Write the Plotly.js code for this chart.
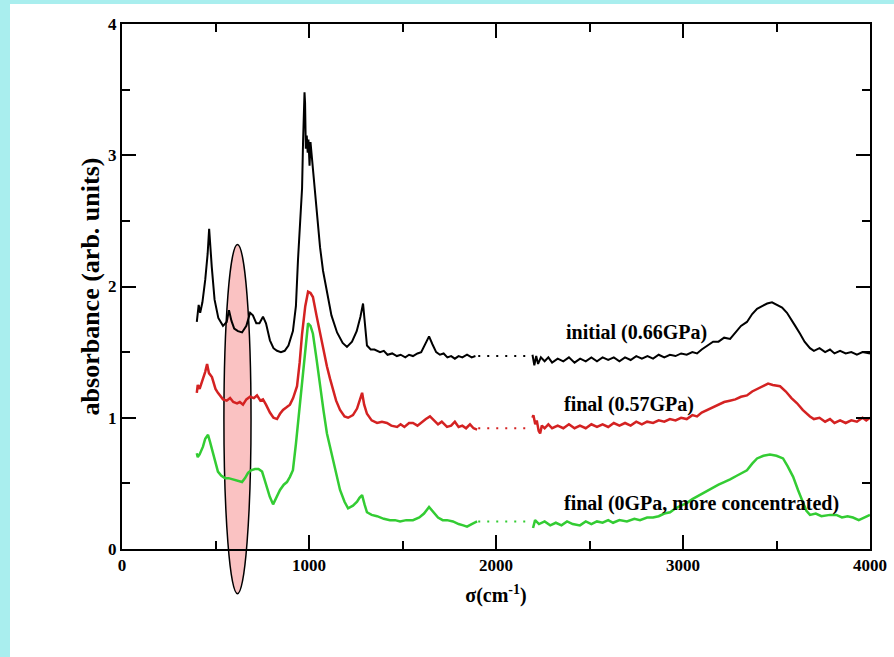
<!DOCTYPE html>
<html>
<head>
<meta charset="utf-8">
<script src="https://cdn.plot.ly/plotly-3.0.1.min.js"></script>
<style>
html,body{margin:0;padding:0;background:#ffffff;}
#chart{width:894px;height:657px;}
</style>
</head>
<body>
<div id="chart"></div>
<script>
// ---- data ----
const blackX1 = [400,410,418,430,445,458,466,472,480,495,515,540,560,572,585,600,620,642,665,685,700,718,735,754,770,791,810,829,850,870,890,914,930,941,955,963,968,972,976,979,983,988,993,997,1003,1008,1014,1022,1032,1045,1059,1075,1096,1120,1150,1180,1203,1230,1255,1275,1289,1298,1310,1330,1350,1380,1400,1420,1445,1470,1490,1515,1535,1556,1580,1600,1620,1642,1660,1680,1700,1720,1740,1760,1780,1800,1820,1845,1870,1890];
const blackY1 = [1.73,1.86,1.80,1.88,2.05,2.25,2.44,2.30,2.15,1.90,1.76,1.70,1.73,1.82,1.74,1.68,1.66,1.65,1.70,1.80,1.78,1.72,1.72,1.77,1.72,1.59,1.53,1.51,1.50,1.51,1.55,1.66,1.85,2.20,2.55,2.75,3.09,3.30,3.48,3.40,3.05,3.15,3.02,3.12,2.92,3.10,3.00,2.90,2.76,2.52,2.30,2.12,1.95,1.78,1.65,1.57,1.54,1.58,1.66,1.77,1.87,1.72,1.55,1.52,1.52,1.50,1.51,1.48,1.49,1.47,1.48,1.46,1.48,1.47,1.49,1.50,1.56,1.62,1.56,1.50,1.48,1.49,1.46,1.47,1.45,1.47,1.46,1.48,1.46,1.47];
const blackX2 = [2195,2205,2215,2225,2240,2260,2280,2300,2330,2360,2390,2420,2450,2480,2510,2540,2570,2600,2630,2660,2690,2720,2750,2780,2810,2840,2870,2900,2930,2960,2990,3020,3050,3075,3100,3130,3161,3190,3220,3252,3280,3310,3342,3370,3396,3420,3450,3476,3500,3530,3556,3580,3600,3626,3650,3679,3700,3730,3760,3786,3810,3840,3870,3900,3930,3960,3990,4000];
const blackY2 = [1.48,1.40,1.47,1.41,1.46,1.43,1.46,1.42,1.45,1.43,1.46,1.42,1.45,1.43,1.46,1.43,1.46,1.44,1.46,1.43,1.46,1.44,1.47,1.45,1.47,1.45,1.48,1.46,1.48,1.47,1.49,1.48,1.50,1.49,1.52,1.55,1.58,1.58,1.61,1.60,1.65,1.70,1.73,1.79,1.83,1.85,1.87,1.88,1.86,1.84,1.80,1.75,1.70,1.64,1.58,1.53,1.51,1.53,1.50,1.52,1.49,1.51,1.49,1.50,1.48,1.50,1.49,1.49];

const redX1 = [400,405,415,433,445,455,465,481,500,513,540,560,578,595,615,630,647,665,685,705,722,740,754,770,791,810,829,845,861,880,898,915,936,950,963,980,995,1008,1021,1040,1059,1078,1096,1112,1128,1145,1166,1190,1209,1235,1257,1270,1284,1295,1310,1335,1364,1390,1417,1440,1471,1490,1510,1535,1556,1580,1605,1625,1647,1670,1690,1710,1738,1760,1780,1800,1820,1840,1861,1880,1899];
const redY1 = [1.19,1.25,1.22,1.29,1.35,1.41,1.34,1.31,1.22,1.19,1.14,1.13,1.15,1.12,1.11,1.12,1.10,1.14,1.16,1.15,1.17,1.13,1.14,1.10,1.04,1.00,0.99,1.03,1.06,1.08,1.10,1.15,1.24,1.42,1.64,1.85,1.96,1.95,1.92,1.78,1.64,1.50,1.39,1.30,1.21,1.13,1.06,1.01,1.00,1.02,1.07,1.13,1.19,1.10,1.03,0.98,0.96,0.97,0.96,0.94,0.93,0.95,0.93,0.96,0.96,0.94,0.97,0.99,1.01,0.98,0.95,0.97,0.93,0.94,0.97,0.93,0.94,0.92,0.95,0.92,0.91];
const redX2 = [2195,2200,2210,2218,2228,2236,2245,2260,2280,2300,2330,2360,2390,2420,2449,2480,2510,2540,2570,2600,2630,2660,2690,2720,2750,2780,2808,2840,2870,2900,2930,2960,2990,3020,3050,3075,3100,3130,3161,3190,3220,3250,3280,3310,3342,3370,3400,3430,3455,3480,3519,3550,3580,3610,3640,3679,3700,3730,3760,3786,3810,3840,3870,3900,3930,3960,3980,4000];
const redY2 = [1.00,1.02,0.95,0.98,0.90,0.88,0.94,0.92,0.95,0.92,0.94,0.92,0.95,0.92,0.94,0.92,0.95,0.93,0.95,0.93,0.96,0.94,0.96,0.94,0.97,0.95,0.97,0.96,0.98,0.97,0.99,0.98,1.00,0.99,1.02,1.01,1.04,1.06,1.08,1.10,1.12,1.13,1.14,1.16,1.17,1.20,1.22,1.24,1.26,1.25,1.24,1.20,1.15,1.11,1.06,1.01,0.99,1.00,0.97,0.99,0.96,0.98,0.96,0.98,0.97,1.00,0.98,1.00];

const greenX1 = [400,405,415,433,445,460,470,487,500,513,530,551,570,594,615,642,658,674,690,711,730,749,762,775,790,808,825,845,865,882,898,914,930,952,970,985,995,1008,1021,1040,1059,1078,1096,1112,1128,1145,1166,1190,1209,1235,1257,1270,1284,1297,1310,1335,1364,1400,1433,1460,1487,1520,1556,1590,1615,1642,1665,1690,1715,1738,1770,1800,1825,1845,1870,1899];
const greenY1 = [0.73,0.70,0.72,0.78,0.84,0.87,0.82,0.73,0.66,0.59,0.56,0.54,0.54,0.53,0.52,0.51,0.54,0.58,0.60,0.61,0.61,0.59,0.53,0.47,0.40,0.34,0.39,0.45,0.49,0.51,0.55,0.60,0.80,1.13,1.40,1.62,1.72,1.70,1.64,1.45,1.24,1.05,0.88,0.78,0.68,0.57,0.45,0.36,0.31,0.33,0.36,0.39,0.41,0.34,0.28,0.26,0.25,0.23,0.22,0.22,0.21,0.22,0.22,0.24,0.27,0.32,0.28,0.24,0.22,0.22,0.21,0.19,0.18,0.17,0.19,0.21];
const greenX2 = [2198,2209,2230,2260,2290,2320,2350,2380,2410,2449,2480,2510,2540,2570,2600,2626,2660,2700,2740,2770,2808,2840,2870,2900,2931,2960,2990,3020,3050,3075,3110,3150,3190,3220,3252,3290,3320,3342,3370,3396,3430,3465,3500,3535,3560,3589,3615,3642,3660,3679,3710,3740,3786,3820,3850,3880,3909,3940,3970,4000];
const greenY2 = [0.16,0.22,0.19,0.21,0.18,0.20,0.18,0.21,0.19,0.18,0.21,0.19,0.21,0.20,0.22,0.20,0.22,0.21,0.23,0.22,0.24,0.24,0.25,0.27,0.28,0.31,0.33,0.35,0.38,0.40,0.43,0.46,0.49,0.51,0.53,0.56,0.58,0.60,0.65,0.69,0.71,0.72,0.71,0.69,0.63,0.55,0.45,0.35,0.29,0.26,0.27,0.25,0.26,0.26,0.24,0.25,0.24,0.22,0.24,0.26];

// dotted bridges over the missing band
const gapX = [1905, 2175];
const blackGapY = [1.47, 1.47];
const redGapY = [0.92, 0.92];
const greenGapY = [0.21, 0.21];

const labels = ['initial (0.66GPa)', 'final (0.57GPa)', 'final (0GPa, more concentrated)'];
const labelX = [2365, 2352, 2352];
const labelY = [1.65, 1.10, 0.35];

// highlighted band (ellipse) in data units
const bandX = [545, 690];
const bandY = [-0.34, 2.32];

const xRange = [0, 4000];
const yRange = [0, 4];

// ---- styling ----
const FONT = '"Liberation Serif", "Times New Roman", serif';
const colBlack = '#000000', colRed = '#d42222', colGreen = '#33cc33';

function seg(x, y, c, w) {
  return {x: x, y: y, type: 'scatter', mode: 'lines', line: {color: c, width: w}, hoverinfo: 'skip', showlegend: false};
}
function dots(y, c) {
  return {x: gapX, y: y, type: 'scatter', mode: 'lines', line: {color: c, width: 2, dash: '2px,7px'}, hoverinfo: 'skip', showlegend: false};
}

const traces = [
  seg(greenX1, greenY1, colGreen, 2.5), seg(greenX2, greenY2, colGreen, 2.5), dots(greenGapY, colGreen),
  seg(redX1, redY1, colRed, 2.5), seg(redX2, redY2, colRed, 2.5), dots(redGapY, colRed),
  seg(blackX1, blackY1, colBlack, 2), seg(blackX2, blackY2, colBlack, 2), dots(blackGapY, colBlack)
];

const px = v => (v - xRange[0]) / (xRange[1] - xRange[0]);
const py = v => (v - yRange[0]) / (yRange[1] - yRange[0]);

const W = 894, H = 657, mL = 122, mR = 24, mT = 24, mB = 108;
const pw = W - mL - mR, ph = H - mT - mB;
const pxPaper = p => (p - mL) / pw;          // pixel -> paper x
const pyPaper = p => (H - mB - p) / ph;      // pixel -> paper y

const shapes = [
  // slide background strips
  {type: 'rect', xref: 'paper', yref: 'paper', x0: pxPaper(0), x1: pxPaper(10), y0: pyPaper(H), y1: pyPaper(0), fillcolor: '#a9eeee', line: {width: 0}, layer: 'below'},
  {type: 'rect', xref: 'paper', yref: 'paper', x0: pxPaper(0), x1: pxPaper(W), y0: pyPaper(4), y1: pyPaper(0), fillcolor: '#a9eeee', line: {width: 0}, layer: 'below'},
  // highlight ellipse
  {type: 'circle', xref: 'paper', yref: 'paper', x0: px(bandX[0]), x1: px(bandX[1]), y0: py(bandY[0]), y1: py(bandY[1]),
   fillcolor: 'rgba(245,120,120,0.45)', line: {color: '#000000', width: 1.5}, layer: 'below'}
];

const annotations = labels.map((t, i) => ({
  x: labelX[i], y: labelY[i], xref: 'x', yref: 'y', text: t, showarrow: false,
  xanchor: 'left', yanchor: 'middle',
  font: {family: FONT, size: 20, color: '#000', weight: 'bold'}
}));

const axisCommon = {
  showgrid: false, zeroline: false, showline: true, linecolor: '#000', linewidth: 2,
  mirror: 'ticks', ticks: 'inside', ticklen: 14, tickwidth: 2, tickcolor: '#000',
  tickfont: {family: FONT, size: 17, color: '#000', weight: 'bold'}
};

const layout = {
  width: W, height: H,
  margin: {l: mL, r: mR, t: mT, b: mB, pad: 0},
  paper_bgcolor: '#ffffff', plot_bgcolor: 'rgba(0,0,0,0)',
  showlegend: false,
  xaxis: Object.assign({}, axisCommon, {
    range: xRange, tick0: 0, dtick: 1000,
    minor: {dtick: 500, ticks: 'inside', ticklen: 8, tickwidth: 2, tickcolor: '#000'},
    title: {text: 'σ(cm<sup>-1</sup>)', font: {family: FONT, size: 20, color: '#000', weight: 'bold'}, standoff: 14}
  }),
  yaxis: Object.assign({}, axisCommon, {
    range: yRange, tick0: 0, dtick: 1,
    minor: {dtick: 0.5, ticks: 'inside', ticklen: 8, tickwidth: 2, tickcolor: '#000'},
    title: {text: 'absorbance (arb. units)', font: {family: FONT, size: 26, color: '#000', weight: 'bold'}, standoff: 1}
  }),
  shapes: shapes,
  annotations: annotations
};

Plotly.newPlot('chart', traces, layout, {displayModeBar: false, staticPlot: true});
</script>
</body>
</html>
